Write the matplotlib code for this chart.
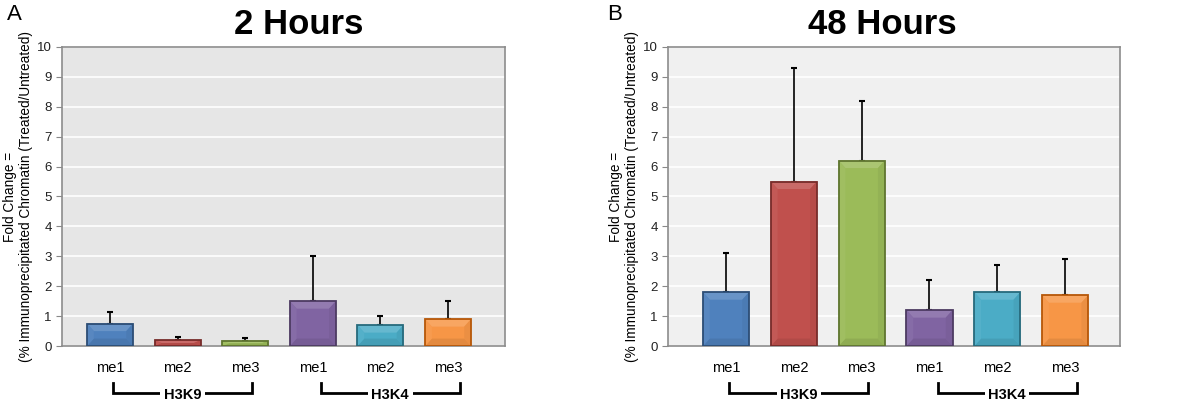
import matplotlib.pyplot as plt
import matplotlib.transforms as mtransforms
import matplotlib.colors as mcolors
import numpy as np

plt.rcParams["font.family"] = ["Liberation Sans", "DejaVu Sans"]

marks = ["me1", "me2", "me3", "me1", "me2", "me3"]
groups = ["H3K9", "H3K4"]
colors = ["#4f81bd", "#c0504d", "#9bbb59", "#8064a2", "#4bacc6", "#f79646"]
edges = ["#2c4d75", "#772c2a", "#5f7530", "#4d3b62", "#276a7c", "#b65708"]

# 2 hours
mean_2h = [0.75, 0.2, 0.18, 1.5, 0.7, 0.9]
err_2h = [0.4, 0.1, 0.08, 1.5, 0.3, 0.6]
# 48 hours
mean_48h = [1.8, 5.5, 6.2, 1.2, 1.8, 1.7]
err_48h = [1.3, 3.8, 2.0, 1.0, 0.9, 1.2]

fig = plt.figure(figsize=(12, 4.01), dpi=100)


def shade(c, f):
    r = np.array(mcolors.to_rgb(c))
    return tuple(r + (1 - r) * f) if f > 0 else tuple(r * (1 + f))


def panel(rect, means, errs, title, letter, bg, xlim, title_x, letter_x):
    ax = fig.add_axes(rect)
    ax.set_facecolor(bg)
    x = np.arange(len(means))
    w = 0.68
    ax.set_axisbelow(True)
    ax.yaxis.grid(True, color="white", lw=1.2)
    ax.errorbar(x, means, yerr=[np.zeros(len(errs)), errs], fmt="none",
                ecolor="black", elinewidth=1.2, capsize=2.5, capthick=1.5, zorder=2)
    ax.bar(x, means, width=w, color=colors, zorder=3, linewidth=0)
    # bevel facets
    for xi, m, c in zip(x, means, colors):
        bx = 0.1
        by = min(0.25, m / 2)
        l, r = xi - w / 2, xi + w / 2
        ax.fill([l, r, r - bx, l + bx], [m, m, m - by, m - by], color=shade(c, 0.15), zorder=4, lw=0)
        ax.fill([l, r, r - bx, l + bx], [0, 0, by, by], color=shade(c, -0.08), zorder=4, lw=0)
        ax.fill([r, r, r - bx, r - bx], [0, m, m - by, by], color=shade(c, -0.05), zorder=4, lw=0)
        ax.fill([l, l, l + bx, l + bx], [0, m, m - by, by], color=shade(c, 0.05), zorder=4, lw=0)
    ax.bar(x, means, width=w, color="none", edgecolor=edges, linewidth=1.3, zorder=5)
    ax.set_xlim(*xlim)
    ax.set_ylim(0, 10)
    ax.set_yticks(range(0, 11))
    ax.set_xticks(x)
    ax.set_xticklabels(marks, fontsize=10.5)
    ax.tick_params(axis="x", length=0, pad=11)
    ax.tick_params(axis="y", length=4, color="#888888", labelsize=9.5, labelcolor="#222222")
    for s in ax.spines.values():
        s.set_color("#8c8c8c")
        s.set_linewidth(1.2)
    ax.set_ylabel("Fold Change =\n(% Immunoprecipitated Chromatin (Treated/Untreated)",
                  fontsize=9.8, labelpad=3, linespacing=1.1)

    trans = mtransforms.blended_transform_factory(ax.transData, ax.transAxes)
    for (a, b), g in zip([(0.05, 2.1), (3.12, 5.17)], groups):
        ax.plot([a, a, b, b], [-0.124, -0.157, -0.157, -0.124], color="black", lw=2,
                transform=trans, clip_on=False, solid_joinstyle="miter")
        ax.text((a + b) / 2, -0.165, g, transform=trans, ha="center", va="center",
                fontsize=10.5, fontweight="bold",
                bbox=dict(facecolor="white", edgecolor="none", pad=2.5))

    fig.text(title_x, 0.94, title, ha="center", va="center", fontsize=25, fontweight="bold")
    fig.text(letter_x, 0.965, letter, ha="left", va="center", fontsize=16)
    return ax


panel([0.0517, 0.137, 0.369, 0.746], mean_2h, err_2h, "2 Hours", "A", "#e6e6e6",
      (-0.71, 5.84), 0.249, 0.006)
panel([0.5567, 0.137, 0.3767, 0.746], mean_48h, err_48h, "48 Hours", "B", "#f0f0f0",
      (-0.855, 5.81), 0.735, 0.506)

fig.savefig("out.png", dpi=100)
